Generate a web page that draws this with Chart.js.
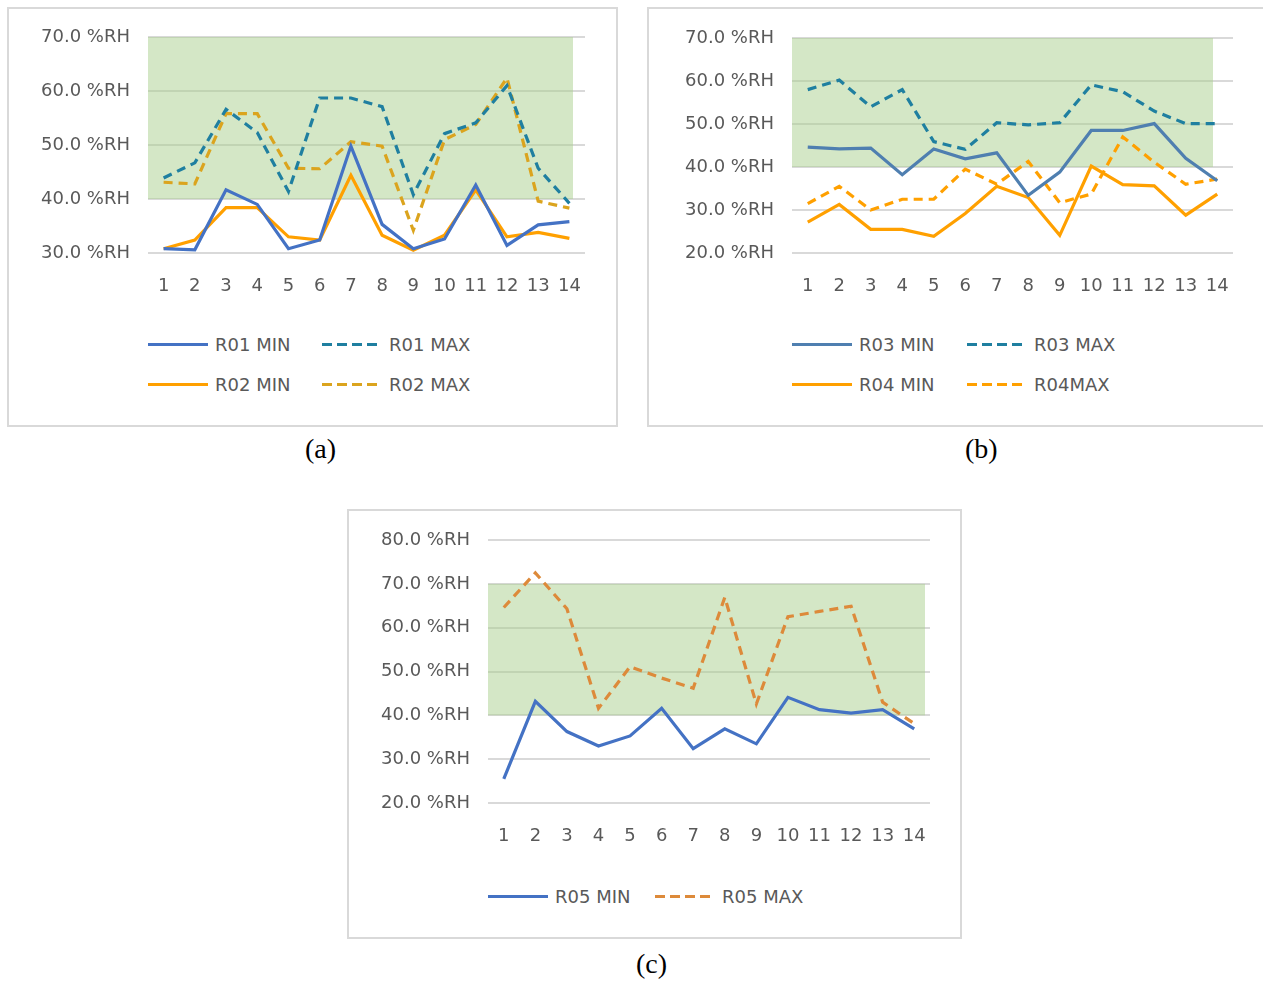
<!DOCTYPE html>
<html><head><meta charset="utf-8">
<script src="https://cdn.jsdelivr.net/npm/chart.js@4"></script>
<style>
body{margin:0;background:#fff;width:1263px;height:984px;position:relative;overflow:hidden;font-family:"DejaVu Sans",sans-serif}
.box{position:absolute;border:2px solid #d9d9d9;box-sizing:border-box}
canvas{position:absolute}
.cap{position:absolute;font-family:"Liberation Serif",serif;font-size:28px;color:#000}
.leg{position:absolute;font-size:18px;color:#595959;white-space:nowrap;line-height:22px}
.leg span.l{position:absolute;top:9px;width:60px;height:3px}
</style></head><body>
<div class="box" style="left:7px;top:7px;width:611px;height:420px"></div>
<div class="box" style="left:647px;top:7px;width:620px;height:420px"></div>
<div class="box" style="left:347px;top:509px;width:615px;height:430px"></div>
<div class="cap" style="left:305px;top:433px">(a)</div>
<div class="cap" style="left:965px;top:433px">(b)</div>
<div class="cap" style="left:636px;top:948px">(c)</div>
<canvas id="ca" style="left:7px;top:7px;width:610px;height:303px"></canvas>
<canvas id="cb" style="left:647px;top:7px;width:616px;height:303px"></canvas>
<canvas id="cc" style="left:348px;top:510px;width:613px;height:340px"></canvas>
<div id="legs"></div>
<script>
const days = ["1","2","3","4","5","6","7","8","9","10","11","12","13","14"];
const r01Min = [30.8,30.6,41.7,39.0,30.8,32.4,49.8,35.3,30.8,32.6,42.6,31.4,35.2,35.8];
const r01Max = [43.9,46.7,56.6,52.3,41.4,58.7,58.7,57.1,40.8,52.1,54.1,61.0,45.7,39.2];
const r02Min = [30.8,32.4,38.4,38.4,33.0,32.4,44.4,33.3,30.5,33.3,41.7,33.0,33.8,32.7];
const r02Max = [43.1,42.8,55.8,55.8,45.7,45.6,50.6,49.8,34.2,51.0,53.8,62.4,39.6,38.3];
const r03Min = [44.6,44.2,44.4,38.2,44.2,41.9,43.3,33.4,38.8,48.5,48.5,50.1,42.0,36.8];
const r03Max = [58.0,60.2,54.0,58.0,45.9,44.1,50.3,49.8,50.3,59.1,57.5,53.0,50.1,50.1];
const r04Min = [27.2,31.3,25.5,25.5,23.9,29.2,35.5,32.9,24.1,40.2,35.9,35.6,28.8,33.7];
const r04Max = [31.5,35.5,30.0,32.5,32.5,39.5,36.0,41.3,31.7,33.7,47.0,41.1,36.0,37.2];
const r05Min = [25.5,43.2,36.3,33.0,35.3,41.6,32.4,36.9,33.5,44.1,41.3,40.5,41.3,36.9];
const r05Max = [64.6,72.5,64.3,41.6,51.1,48.5,46.2,66.9,42.6,62.5,63.7,64.9,43.0,38.1];
const band = [40, 70];

const bandPlugin = {
  id: "band",
  beforeDatasetsDraw(chart, args, opts) {
    const {ctx, chartArea: a, scales: {y}} = chart;
    const top = y.getPixelForValue(band[1]), bot = y.getPixelForValue(band[0]);
    ctx.save();
    ctx.fillStyle = "rgba(169,208,142,0.5)";
    ctx.fillRect(a.left, top, a.right - a.left - opts.cut, bot - top);
    ctx.restore();
  }
};

function ds(label, data, color, dashed) {
  return {label, data, borderColor: color, borderWidth: 3.2, pointRadius: 0,
    tension: 0, borderDash: dashed ? [9, 6] : []};
}

function make(id, sets, yMin, yMax, pad, yw, cut) {
  new Chart(document.getElementById(id), {
    type: "line",
    data: {labels: days, datasets: sets},
    plugins: [bandPlugin],
    options: {
      responsive: false, animation: false,
      layout: {padding: pad},
      plugins: {legend: {display: false}, tooltip: {enabled: false}, band: {cut}},
      scales: {
        x: {offset: true, grid: {display: false}, border: {display: false},
          ticks: {color: "#595959", font: {size: 18, family: "DejaVu Sans"}, padding: 15, maxRotation: 0, autoSkip: false},
          afterFit: s => { s.height = 47; }},
        y: {min: yMin, max: yMax, grid: {color: "#d9d9d9", lineWidth: 2, drawTicks: false}, border: {display: false},
          ticks: {stepSize: 10, color: "#595959", font: {size: 18, family: "DejaVu Sans"}, padding: 18,
            callback: v => v.toFixed(1) + " %RH"},
          afterFit: s => { s.width = yw; }}
      }
    }
  });
}

function sizeCanvas(id) {
  const c = document.getElementById(id);
  c.width = parseInt(c.style.width); c.height = parseInt(c.style.height);
}
["ca","cb","cc"].forEach(sizeCanvas);

const blue = "#4472c4", teal = "#1f7fa0", orange = "#ffa000", gold = "#dba41e", dOrange = "#dd8a3a";
const setA = [ds("R01 MIN", r01Min, blue), ds("R01 MAX", r01Max, teal, true), ds("R02 MIN", r02Min, orange), ds("R02 MAX", r02Max, gold, true)];
const setB = [ds("R03 MIN", r03Min, "#4f7fb0"), ds("R03 MAX", r03Max, teal, true), ds("R04 MIN", r04Min, orange), ds("R04MAX", r04Max, orange, true)];
const setC = [ds("R05 MIN", r05Min, blue), ds("R05 MAX", r05Max, dOrange, true)];
make("ca", setA, 30, 70, {left: 15, right: 32, top: 30, bottom: 10}, 126, 12);
make("cb", setB, 20, 70, {left: 18, right: 30, top: 31, bottom: 10}, 127, 20);
make("cc", setC, 20, 80, {left: 20, right: 31, top: 30, bottom: 0}, 120, 5);

// legends
function legend(sets, cols, rows) {
  const host = document.getElementById("legs");
  sets.forEach((d, i) => {
    const [x, y] = [cols[i % cols.length], rows[Math.floor(i / cols.length)]];
    const c = d.borderColor;
    const bg = d.borderDash.length
      ? "repeating-linear-gradient(90deg," + c + " 0 10px,transparent 10px 15px)" : c;
    const el = document.createElement("div");
    el.className = "leg";
    el.style.left = x + "px"; el.style.top = (y - 11) + "px";
    el.style.paddingLeft = "67px";
    el.innerHTML = '<span class="l" style="left:0;background:' + bg + '"></span>' + d.label;
    host.appendChild(el);
  });
}
legend(setA, [148, 322], [345, 385]);
legend(setB, [792, 967], [345, 385]);
legend(setC, [488, 655], [897]);
</script>
</body></html>
